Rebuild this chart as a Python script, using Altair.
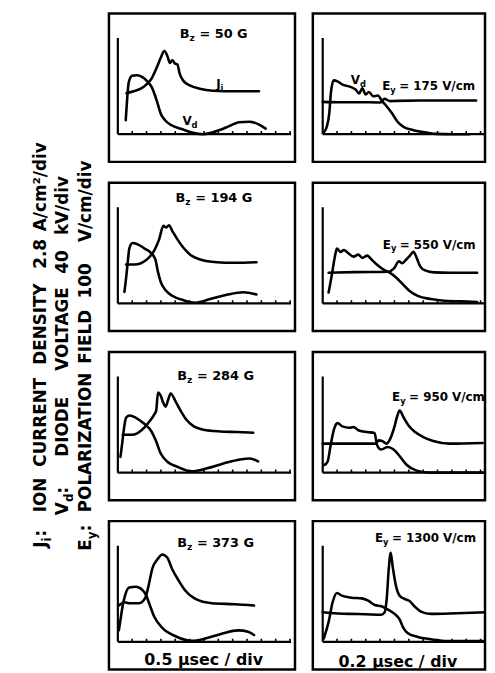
import altair as alt
import pandas as pd

# ---------------- values (divisions) ----------------
B_FIELDS = ["50", "194", "284", "373"]          # B_z in gauss (left column)
E_FIELDS = ["175", "550", "950", "1300"]        # E_y in V/cm (right column)
TIME_LABELS = ["0.5 μsec / div", "0.2 μsec / div"]
LEGEND_PREFIX = [("J", "i"), ("V", "d"), ("E", "y")]
LEGEND_WORDS = [
    ["ION", "CURRENT", "DENSITY", "2.8", "A/cm²/div"],
    ["DIODE", "VOLTAGE", "40", "kV/div"],
    ["POLARIZATION", "FIELD", "100", "V/cm/div"],
]

# Left column: ion current density J_i and diode voltage V_d
P1_JI = [(0.60, 2.85), (1.10, 2.99), (1.56, 3.15), (2.02, 3.49), (2.37, 3.91), (2.71, 4.64),
         (2.99, 5.33), (3.24, 5.79), (3.45, 5.45), (3.63, 4.97), (3.79, 5.15), (3.98, 4.92),
         (4.14, 4.87), (4.32, 4.18), (4.60, 3.68), (5.01, 3.40), (5.70, 3.17), (6.62, 3.03),
         (8.23, 2.99), (9.84, 2.99)]
P1_VD = [(0.55, 0.97), (0.64, 2.34), (0.76, 3.61), (0.99, 4.07), (1.33, 4.11), (1.68, 4.00),
         (2.02, 3.72), (2.37, 3.26), (2.71, 2.34), (2.99, 1.43), (3.29, 0.97), (3.75, 0.62),
         (4.55, 0.32), (5.24, 0.09), (5.93, 0.00), (6.62, 0.14), (7.54, 0.46), (8.46, 0.83),
         (9.15, 0.87), (9.84, 0.67), (10.30, 0.39)]
P3_JI = [(0.57, 2.71), (1.15, 2.71), (1.61, 2.80), (2.07, 3.10), (2.53, 3.68), (2.87, 4.44),
         (3.17, 5.40), (3.38, 5.29), (3.56, 5.45), (3.79, 5.06), (4.14, 4.48), (4.60, 3.84),
         (5.06, 3.38), (5.75, 3.06), (6.90, 2.87), (8.05, 2.83), (9.66, 2.87)]
P3_VD = [(0.46, 0.80), (0.57, 1.72), (0.69, 2.87), (0.80, 3.84), (1.03, 4.21), (1.38, 4.11),
         (1.84, 3.84), (2.30, 3.52), (2.60, 3.10), (2.80, 2.18), (2.99, 1.49), (3.33, 0.92),
         (3.79, 0.53), (4.60, 0.21), (5.40, 0.05), (6.44, 0.30), (7.59, 0.60), (8.74, 0.78),
         (9.66, 0.62)]
P5_JI = [(0.34, 2.64), (0.92, 2.64), (1.38, 2.76), (1.84, 3.13), (2.25, 3.63), (2.53, 4.05),
         (2.67, 4.32), (2.80, 5.59), (2.99, 5.36), (3.15, 4.90), (3.33, 4.60), (3.52, 5.13),
         (3.68, 5.52), (4.02, 4.97), (4.37, 4.32), (4.78, 3.68), (5.29, 3.22), (5.98, 2.99),
         (7.13, 2.87), (8.28, 2.83), (9.43, 2.78)]
P5_VD = [(0.18, 1.10), (0.30, 2.02), (0.41, 2.94), (0.57, 3.82), (0.80, 3.98), (1.26, 3.82),
         (1.84, 3.40), (2.30, 2.94), (2.64, 2.25), (2.99, 1.33), (3.45, 0.76), (4.14, 0.41),
         (5.17, 0.09), (6.21, 0.30), (7.36, 0.64), (8.51, 0.92), (9.20, 0.99), (9.77, 0.78)]
P7_JI = [(0.07, 2.53), (0.46, 2.76), (0.80, 2.69), (1.49, 2.69), (1.91, 3.06), (2.14, 3.91),
         (2.41, 5.13), (2.76, 5.75), (3.10, 6.09), (3.45, 5.86), (3.79, 5.06), (4.25, 4.25),
         (4.71, 3.56), (5.40, 2.99), (6.55, 2.69), (8.16, 2.62), (9.49, 2.53)]
P7_VD = [(0.07, 0.80), (0.21, 1.72), (0.34, 2.53), (0.57, 3.45), (0.80, 3.79), (1.26, 3.84),
         (1.72, 3.61), (1.95, 3.29), (2.18, 2.69), (2.53, 1.77), (3.10, 0.97), (4.02, 0.39),
         (5.17, 0.07), (6.09, 0.23), (7.24, 0.57), (8.39, 0.80), (9.08, 0.71), (9.49, 0.48)]

# Right column: polarization field E_y and diode voltage V_d
P2_EY = [(0.00, 2.25), (1.03, 2.23), (2.41, 2.23), (4.02, 2.21), (4.30, 2.46), (4.71, 2.30),
         (5.17, 2.32), (6.78, 2.34), (9.08, 2.34), (10.69, 2.34)]
P2_VD = [(0.07, 0.11), (0.30, 0.57), (0.46, 1.49), (0.57, 2.87), (0.76, 3.75), (1.03, 3.68),
         (1.38, 3.45), (1.84, 3.33), (2.30, 3.10), (2.53, 2.83), (2.76, 3.20), (2.99, 2.76),
         (3.22, 2.94), (3.52, 2.64), (3.84, 2.69), (4.14, 2.30), (4.48, 1.91), (4.83, 1.45),
         (5.17, 0.92), (5.63, 0.51), (6.32, 0.28), (7.24, 0.11), (7.93, 0.02), (9.08, 0.00),
         (10.23, 0.00)]
P4_EY = [(0.41, 2.14), (2.25, 2.18), (4.55, 2.21), (4.97, 2.44), (5.31, 2.94), (5.54, 2.80),
         (5.82, 3.06), (6.05, 3.29), (6.32, 3.59), (6.55, 3.17), (6.78, 2.60), (7.13, 2.30),
         (7.77, 2.16), (8.92, 2.14), (10.76, 2.14)]
P4_VD = [(0.41, 0.76), (0.64, 2.02), (0.83, 3.17), (0.99, 3.82), (1.24, 3.59), (1.47, 3.72),
         (1.79, 3.49), (2.14, 3.26), (2.48, 3.40), (2.76, 3.17), (3.10, 3.33), (3.40, 3.06),
         (3.77, 2.71), (4.21, 2.37), (4.67, 2.14), (5.13, 1.79), (5.59, 1.33), (6.05, 0.87),
         (6.62, 0.53), (7.54, 0.30), (8.46, 0.18), (9.61, 0.14), (10.76, 0.09)]
P6_EY = [(0.00, 2.02), (1.95, 2.02), (3.68, 2.02), (3.91, 2.25), (4.14, 2.21), (4.44, 2.02),
         (4.71, 2.37), (4.99, 3.17), (5.17, 3.86), (5.36, 4.32), (5.63, 3.86), (5.98, 3.29),
         (6.44, 2.83), (7.01, 2.48), (7.70, 2.21), (8.85, 2.02), (11.15, 2.07)]
P6_VD = [(0.11, 0.53), (0.34, 0.76), (0.57, 2.02), (0.80, 3.06), (1.03, 3.45), (1.38, 3.22),
         (1.84, 3.13), (2.14, 3.17), (2.53, 2.94), (3.10, 2.83), (3.61, 2.76), (3.79, 1.91),
         (4.07, 1.61), (4.53, 1.79), (4.94, 1.61), (5.40, 1.10), (5.86, 0.53), (6.55, 0.14),
         (7.47, 0.00), (9.08, 0.00), (11.15, 0.00)]
P8_EY = [(0.00, 2.07), (1.79, 1.95), (2.94, 1.93), (4.09, 1.89), (4.32, 2.07), (4.46, 2.99),
         (4.60, 5.06), (4.74, 6.21), (4.87, 5.29), (5.08, 4.02), (5.36, 3.22), (5.70, 2.99),
         (6.05, 2.85), (6.39, 2.48), (6.85, 2.11), (7.54, 1.95), (9.38, 2.00), (11.45, 2.07)]
P8_VD = [(0.07, 0.23), (0.41, 1.38), (0.69, 2.76), (0.99, 3.40), (1.33, 3.22), (2.02, 3.08),
         (2.71, 3.03), (3.17, 2.87), (3.63, 2.57), (4.09, 2.48), (4.55, 2.25), (5.01, 1.95),
         (5.36, 1.56), (5.59, 1.03), (5.89, 0.64), (6.62, 0.34), (7.54, 0.18), (8.69, 0.05),
         (11.45, 0.05)]

# ---------------- styling / layout ----------------
FONT = "DejaVu Sans"
DIV_PX = 14.5
PANEL_H = 150
ORIGIN_FROM_TOP = 122
Y_DOMAIN = [-(PANEL_H - ORIGIN_FROM_TOP) / DIV_PX, ORIGIN_FROM_TOP / DIV_PX]
Y_TOP = 6.7
LEFT_W, LEFT_X0, LEFT_AXIS_END, LEFT_TICKS = 188, 9, 12.07, 12
RIGHT_W, RIGHT_X0, RIGHT_TICKS = 174, 10, 11


def traces_df(named):
    rows = []
    for name, pts in named.items():
        for i, (x, y) in enumerate(pts):
            rows.append({"trace": name, "i": i, "x": x, "y": y})
    return pd.DataFrame(rows)


def sub_label(x, y, main, sub, rest, size, rest_dx):
    return {"x": x, "y": y, "main": main, "sub": sub, "rest": rest, "size": size, "rest_dx": rest_dx}


def make_panel(named, width, x0, axis_end, nticks, labels, bottom=None):
    x_dom = [-x0 / DIV_PX, (width - x0) / DIV_PX]
    if axis_end is None:
        axis_end = x_dom[1]
    xs = alt.Scale(domain=x_dom, nice=False, zero=False)
    ys = alt.Scale(domain=Y_DOMAIN, nice=False, zero=False)
    X = alt.X("x:Q", scale=xs, axis=None)
    Y = alt.Y("y:Q", scale=ys, axis=None)

    lines = alt.Chart(traces_df(named)).mark_line(
        color="black", strokeWidth=2.6, interpolate="monotone",
        strokeJoin="round", strokeCap="round", clip=True
    ).encode(x=X, y=Y, detail="trace:N", order="i:Q")

    axes_df = pd.DataFrame({"x": [0, 0], "y": [0, 0], "x2": [axis_end, 0], "y2": [0, Y_TOP]})
    axes = alt.Chart(axes_df).mark_rule(color="black", strokeWidth=2.2, clip=True).encode(
        x=X, y=Y, x2="x2:Q", y2="y2:Q")

    ticks_df = pd.DataFrame({"x": list(range(1, nticks + 1)), "y": 0.0, "y2": 0.22})
    ticks = alt.Chart(ticks_df).mark_rule(color="black", strokeWidth=1.6, clip=True).encode(
        x=X, y=Y, y2="y2:Q")

    layers = [lines, axes, ticks]
    for lab in labels:
        d = pd.DataFrame([lab])
        base = alt.Chart(d)
        layers.append(base.mark_text(
            align="right", baseline="middle", font=FONT, fontWeight="bold",
            fontSize=lab["size"], color="black", clip=True
        ).encode(x=X, y=Y, text="main:N"))
        layers.append(base.mark_text(
            align="left", baseline="middle", font=FONT, fontWeight="bold",
            fontSize=lab["size"] * 0.7, dy=lab["size"] * 0.32, color="black", clip=True
        ).encode(x=X, y=Y, text="sub:N"))
        if lab["rest"]:
            layers.append(base.mark_text(
                align="left", baseline="middle", font=FONT, fontWeight="bold",
                fontSize=lab["size"], dx=lab["rest_dx"], color="black", clip=True
            ).encode(x=X, y=Y, text="rest:N"))
    if bottom is not None:
        bd = pd.DataFrame([{"x": bottom[0], "y": bottom[1], "t": bottom[2]}])
        layers.append(alt.Chart(bd).mark_text(
            align="center", baseline="middle", font=FONT, fontWeight="bold",
            fontSize=16, color="black", clip=True
        ).encode(x=X, y=Y, text="t:N"))
    return alt.layer(*layers).properties(width=width, height=PANEL_H)


def b_label(x, y, b):
    return sub_label(x, y, "B", "z", f"= {b} G", 13, 10)


def e_label(x, y, e):
    return sub_label(x, y, "E", "y", f"= {e} V/cm", 12, 9)


left_specs = [
    ({"J": P1_JI, "V": P1_VD}, [b_label(5.00, 6.99, B_FIELDS[0]),
                                 sub_label(7.16, 3.50, "J", "i", "", 12, 0),
                                 sub_label(5.14, 0.92, "V", "d", "", 12, 0)], None),
    ({"J": P3_JI, "V": P3_VD}, [b_label(4.70, 7.36, B_FIELDS[1])], None),
    ({"J": P5_JI, "V": P5_VD}, [b_label(4.82, 6.74, B_FIELDS[2])], None),
    ({"J": P7_JI, "V": P7_VD}, [b_label(4.82, 6.90, B_FIELDS[3])], (5.98, -1.26, TIME_LABELS[0])),
]
right_specs = [
    ({"E": P2_EY, "V": P2_VD}, [sub_label(2.59, 3.79, "V", "d", "", 12, 0),
                                 e_label(4.71, 3.33, E_FIELDS[0])], None),
    ({"E": P4_EY, "V": P4_VD}, [e_label(4.75, 4.09, E_FIELDS[1])], None),
    ({"E": P6_EY, "V": P6_VD}, [e_label(5.40, 5.24, E_FIELDS[2])], None),
    ({"E": P8_EY, "V": P8_VD}, [e_label(4.20, 7.24, E_FIELDS[3])], (5.24, -1.38, TIME_LABELS[1])),
]

rows = []
for (ln, ll, lb), (rn, rl, rb) in zip(left_specs, right_specs):
    lp = make_panel(ln, LEFT_W, LEFT_X0, LEFT_AXIS_END, LEFT_TICKS, ll, lb)
    rp = make_panel(rn, RIGHT_W, RIGHT_X0, None, RIGHT_TICKS, rl, rb)
    rows.append(alt.hconcat(lp, rp, spacing=14))

grid = alt.vconcat(*rows, spacing=17)
TOTAL_H = 4 * PANEL_H + 3 * 17

# ---------------- rotated scale legend on the left ----------------
LEG_FONT = 17
TOP = 10                                 # page y of the chart top
line_x = [33, 56, 79]                    # centre of each rotated line (chart px)
prefix_y = [550, 517, 553]               # where each line starts (page px, bottom)
word_y = [[514, 468, 365, 268, 230],
          [458, 371, 273, 234],
          [514, 364, 298, 241]]
main_w = {"J": 6.5, "V": 13.2, "E": 11.7}
sub_w = {"i": 5.0, "d": 8.8, "y": 8.0}

common = dict(angle=270, align="left", baseline="middle", font=FONT,
              fontWeight="bold", color="black")


def leg_text(t, x, y, size, dy=0):
    return alt.Chart(pd.DataFrame({"t": [t]})).mark_text(fontSize=size, dy=dy, **common).encode(
        x=alt.value(x), y=alt.value(y - TOP), text="t:N")


lab_layers = []
for (m, s), words, wy, lx, py in zip(LEGEND_PREFIX, LEGEND_WORDS, word_y, line_x, prefix_y):
    lab_layers.append(leg_text(m, lx, py, LEG_FONT))
    lab_layers.append(leg_text(s, lx, py - main_w[m], 12, dy=6))
    lab_layers.append(leg_text(":", lx, py - main_w[m] - sub_w[s], LEG_FONT))
    for w, y in zip(words, wy):
        lab_layers.append(leg_text(w, lx, y, LEG_FONT))

left_legend = alt.layer(*lab_layers).properties(
    width=92, height=TOTAL_H, view=alt.ViewBackground(strokeOpacity=0))

chart = alt.hconcat(left_legend, grid, spacing=8).properties(
    padding=0, background="white"
).configure_view(stroke="black", strokeWidth=2.5)

chart.save("out.html", embed_options={"renderer": "svg", "actions": False})
